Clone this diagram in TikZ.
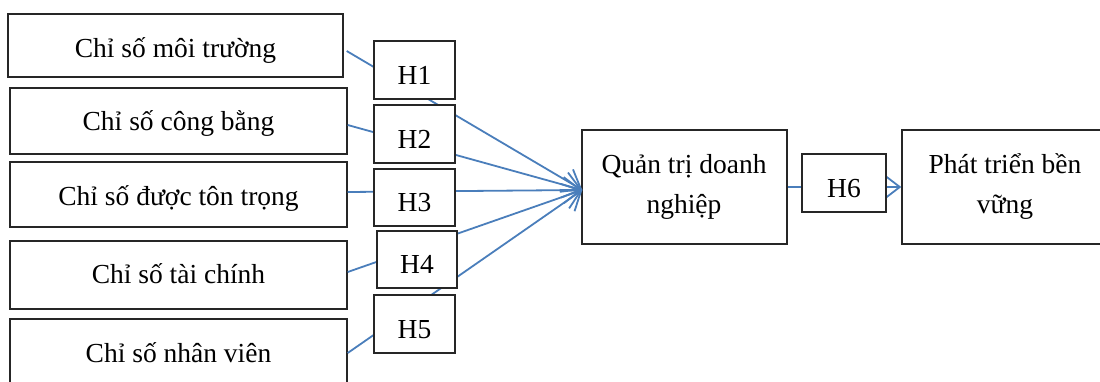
\documentclass[tikz,border=0pt]{standalone}
\usepackage{fontspec}
\setmainfont{Liberation Serif}
\usetikzlibrary{arrows.meta,calc}
\definecolor{linkblue}{HTML}{4A7EBB}
\tikzset{
  frame/.style={draw=black!85, line width=1.4pt, fill=white, inner sep=0pt},
  factor/.style={frame, minimum width=337pt},
  hbox/.style={frame, minimum width=81pt, minimum height=58pt},
  bigbox/.style={frame, minimum width=205pt, minimum height=114pt},
  lbl/.style={inner sep=0pt, anchor=base, font=\fontsize{27.5}{40}\selectfont},
  link/.style={draw=linkblue, line width=1.8pt},
  linkarrow/.style={link, -{Straight Barb[length=17pt,width=26pt]}},
}
\begin{document}
\begin{tikzpicture}[x=1pt,y=-1pt]
\useasboundingbox (0,0) rectangle (1100,381);
\clip (0,0) rectangle (1100,381);

% factor boxes on the left
\node[factor, minimum width=335pt, minimum height=63pt] (b1) at (175.5,45.5) {};
\node[factor, minimum height=66pt] (b2) at (178.5,121) {};
\node[factor, minimum height=65pt] (b3) at (178.5,194.5) {};
\node[factor, minimum height=68pt] (b4) at (178.5,275) {};
\node[factor, minimum height=68pt] (b5) at (178.5,353) {};
\node[lbl] (b1t) at (175.5,57) {Chỉ số môi trường};
\node[lbl] (b2t) at (178.5,130) {Chỉ số công bằng};
\node[lbl] (b3t) at (178.5,205) {Chỉ số được tôn trọng};
\node[lbl] (b4t) at (178.5,283) {Chỉ số tài chính};
\node[lbl] (b5t) at (178.5,362) {Chỉ số nhân viên};

% governance and sustainability boxes
\node[bigbox] (q) at (684.5,187) {};
\node[bigbox, minimum width=206pt] (p) at (1005,187) {};
\node[lbl] (q1) at (684,173) {Quản trị doanh};
\node[lbl] (q2) at (684,213) {nghiệp};
\node[lbl] (p1) at (1005,173) {Phát triển bền};
\node[lbl] (p2) at (1005,213) {vững};

% connectors converging on the governance box
\coordinate (qin) at ($(q.west)+(1,3)$);
\draw[linkarrow] ($(b1.east)+(3,5.5)$) -- (qin);
\draw[linkarrow] ($(b2.east)+(0,4)$) -- (qin);
\draw[linkarrow] ($(b3.east)+(0,-2.5)$) -- (qin);
\draw[linkarrow] ($(b4.east)+(0,-3)$) -- (qin);
\draw[linkarrow] (b5.east) -- (qin);
\draw[linkarrow] (q.east) -- (p.west);

% hypothesis boxes drawn over the connectors
\node[hbox] (h1) at (414.5,70) {};
\node[hbox] (h2) at (414.5,134) {};
\node[hbox, minimum height=57pt] (h3) at (414.5,197.5) {};
\node[hbox, minimum width=80pt, minimum height=57pt] (h4) at (417,259.5) {};
\node[hbox] (h5) at (414.5,324) {};
\node[hbox, minimum width=84pt] (h6) at (844,183) {};
\node[lbl] (h1t) at (414.5,84) {H1};
\node[lbl] (h2t) at (414.5,148) {H2};
\node[lbl] (h3t) at (414.5,211.5) {H3};
\node[lbl] (h4t) at (417,273.5) {H4};
\node[lbl] (h5t) at (414.5,338) {H5};
\node[lbl] (h6t) at (844,197) {H6};
\end{tikzpicture}
\end{document}
